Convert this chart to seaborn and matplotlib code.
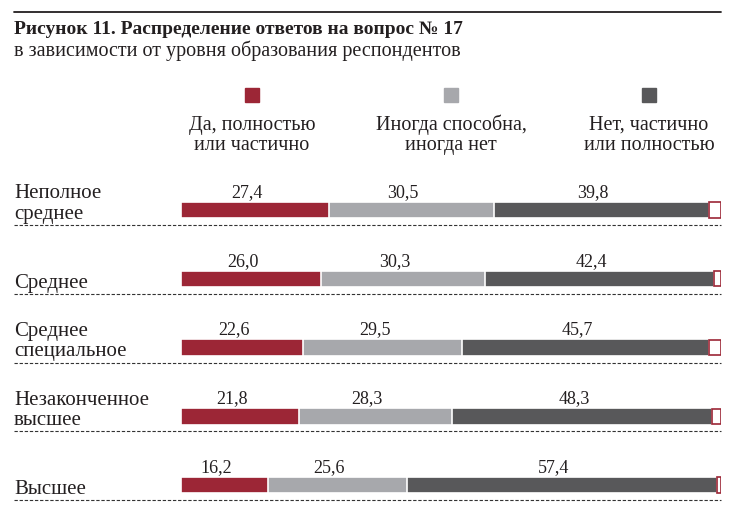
import numpy as np
import pandas as pd
import matplotlib.pyplot as plt
import seaborn as sns

# данные с рисунка
levels = ["Неполное\nсреднее", "Среднее", "Среднее\nспециальное",
          "Незаконченное\nвысшее", "Высшее"]
yes = [27.4, 26.0, 22.6, 21.8, 16.2]
sometimes = [30.5, 30.3, 29.5, 28.3, 25.6]
no = [39.8, 42.4, 45.7, 48.3, 57.4]
legend_labels = ["Да, полностью\nили частично",
                 "Иногда способна,\nиногда нет",
                 "Нет, частично\nили полностью"]
title_1 = "Рисунок 11. Распределение ответов на вопрос № 17"
title_2 = "в зависимости от уровня образования респондентов"

RED = "#9c2636"
GREY = "#a7a8ac"
DARK = "#58585a"
TEXT = "#231f20"

df = pd.DataFrame({"level": levels, "yes": yes, "sometimes": sometimes, "no": no})
df["c1"] = df["yes"]
df["c2"] = df["c1"] + df["sometimes"]
df["c3"] = df["c2"] + df["no"]
df["rest"] = 100 - df["c3"]

sns.set_theme(style="white")
plt.rcParams["font.family"] = ["Liberation Serif", "DejaVu Serif"]

W, H = 735, 515
fig = plt.figure(figsize=(W / 100, H / 100), dpi=100)
# ось: x от 181 до 721 px, верх на 150 px
ax = fig.add_axes([181 / W, 0, 540 / W, 365 / H])

bw = 0.24
# накопленные слои: сначала самый длинный
for col, c in [("c3", DARK), ("c2", GREY), ("c1", RED)]:
    sns.barplot(data=df, x=col, y="level", orient="h", color=c, saturation=1,
                edgecolor="white", linewidth=1.2, width=bw, errorbar=None, ax=ax)

# остаток до 100% - белый прямоугольник с красной рамкой
ax.barh(np.arange(len(df)), df["rest"], left=df["c3"], height=bw * 0.93,
        color="white", edgecolor=RED, linewidth=1.2)

ax.set_xlim(0, 100)
ax.set_ylim(4.436, -0.873)
ax.axis("off")

for i, row in df.iterrows():
    centers = [row["c1"] / 2, row["c1"] + row["sometimes"] / 2, row["c2"] + row["no"] / 2]
    for cx, v in zip(centers, [row["yes"], row["sometimes"], row["no"]]):
        ax.text(cx - 1.5, i - 0.19, f"{v:.1f}".replace(".", ","), ha="center", va="baseline",
                fontsize=13, color=TEXT)
    ax.text(-30.9, i + 0.13, row["level"], ha="left", va="baseline", fontsize=15,
            color=TEXT, linespacing=1.12, clip_on=False)
    ax.plot([-30.9, 100], [i + 0.22, i + 0.22], color="#333333", lw=0.8,
            ls=(0, (3, 1.6)), clip_on=False)

# легенда
for x, lab, c in zip([252, 451, 649], legend_labels, [RED, GREY, DARK]):
    fig.patches.append(plt.Rectangle(((x - 7) / W, 1 - 102 / H), 14 / W, 14 / H,
                                     transform=fig.transFigure, color=c))
    fig.text(x / W, 1 - 150 / H, lab, ha="center", va="baseline", fontsize=14.5,
             color=TEXT, linespacing=1.1, multialignment="center")

# заголовок
fig.add_artist(plt.Line2D([14 / W, 721 / W], [1 - 12 / H, 1 - 12 / H], color=TEXT, lw=1.3))
fig.text(14 / W, 1 - 34 / H, title_1, ha="left", va="baseline", fontsize=14,
         fontweight="bold", color=TEXT)
fig.text(14 / W, 1 - 56 / H, title_2, ha="left", va="baseline", fontsize=14.5, color=TEXT)

fig.savefig("out.png", dpi=100, facecolor="white")
